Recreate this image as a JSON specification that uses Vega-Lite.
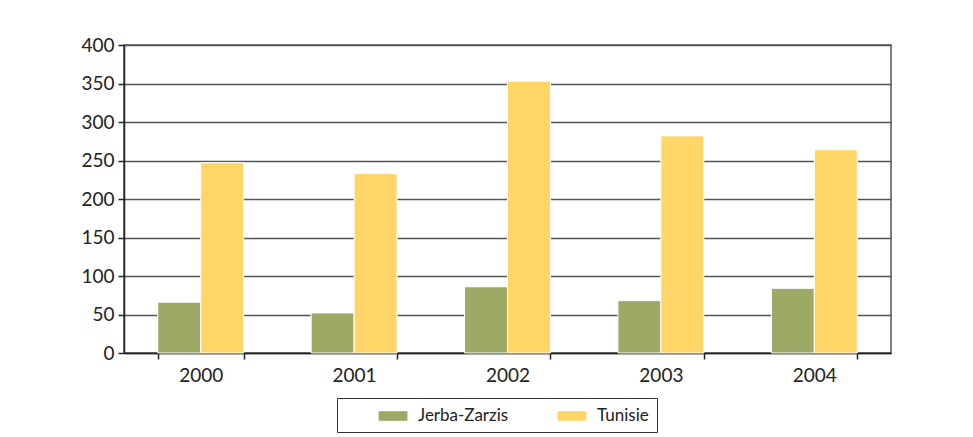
{
  "$schema": "https://vega.github.io/schema/vega-lite/v6.json",
  "width": 767,
  "height": 308,
  "autosize": "none",
  "padding": {"left": 124, "top": 45, "right": 82, "bottom": 84},
  "background": "white",
  "data": {
    "values": [
      {"year": "2000", "region": "Jerba-Zarzis", "value": 66},
      {"year": "2000", "region": "Tunisie", "value": 247},
      {"year": "2001", "region": "Jerba-Zarzis", "value": 52},
      {"year": "2001", "region": "Tunisie", "value": 233},
      {"year": "2002", "region": "Jerba-Zarzis", "value": 86},
      {"year": "2002", "region": "Tunisie", "value": 353},
      {"year": "2003", "region": "Jerba-Zarzis", "value": 68},
      {"year": "2003", "region": "Tunisie", "value": 282},
      {"year": "2004", "region": "Jerba-Zarzis", "value": 84},
      {"year": "2004", "region": "Tunisie", "value": 264}
    ]
  },
  "mark": {"type": "bar", "stroke": "white", "strokeWidth": 1},
  "encoding": {
    "x": {
      "field": "year", "type": "nominal",
      "scale": {"paddingInner": 0.44, "paddingOuter": 0.22},
      "axis": {"title": null, "labelAngle": 0, "tickBand": "extent", "labelPadding": 7, "tickSize": 6}
    },
    "xOffset": {"field": "region", "type": "nominal", "sort": ["Jerba-Zarzis", "Tunisie"]},
    "y": {
      "field": "value", "type": "quantitative",
      "scale": {"domain": [0, 400], "nice": false},
      "axis": {"title": null, "values": [0, 50, 100, 150, 200, 250, 300, 350, 400], "tickSize": 6, "labelPadding": 4}
    },
    "color": {
      "field": "region", "type": "nominal",
      "scale": {"domain": ["Jerba-Zarzis", "Tunisie"], "range": ["#9caa66", "#fed567"]},
      "legend": {
        "title": null,
        "orient": "none",
        "legendX": 213,
        "legendY": 353,
        "direction": "horizontal",
        "strokeColor": "#333333",
        "padding": 8,
        "symbolOffset": 38,
        "symbolType": "M-1.5,-0.5H1.5V0.5H-1.5Z",
        "symbolSize": 370,
        "symbolStrokeWidth": 0,
        "columnPadding": 15,
        "labelFontSize": 17,
        "labelOffset": 15,
        "labelColor": "#222222",
        "labelFont": "Lato"
      }
    }
  },
  "config": {
    "view": {"stroke": "#555555", "strokeWidth": 1.5},
    "axis": {
      "labelFont": "Lato",
      "labelFontSize": 19,
      "labelColor": "#222222",
      "domainColor": "#222222",
      "tickColor": "#222222",
      "domainWidth": 1.5,
      "tickWidth": 1.5,
      "gridColor": "#555555",
      "gridWidth": 1.5,
      "gridOpacity": 1
    },
    "axisX": {"grid": false},
    "axisY": {"grid": true}
  }
}
